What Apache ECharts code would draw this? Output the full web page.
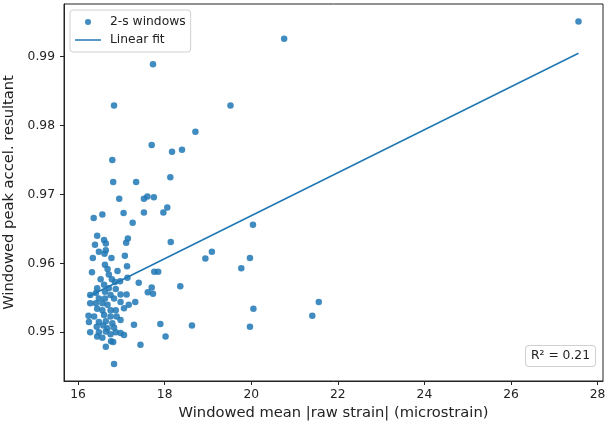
<!DOCTYPE html>
<html>
<head>
<meta charset="utf-8">
<script src="https://cdn.jsdelivr.net/npm/echarts@6/dist/echarts.min.js"></script>
<style>html,body{margin:0;padding:0;background:#fff;}#chart{width:605px;height:425px;}</style>
</head>
<body>
<div id="chart"></div>
<script>
// Windowed mean |raw strain| (microstrain)
const strainX = [
  27.56, 20.76, 17.73, 16.83, 19.52, 18.71, 17.70, 18.17, 18.40, 16.79,
  18.13, 16.81, 17.34, 16.95, 17.52, 17.60, 17.75, 18.06, 17.97, 17.52,
  17.05, 16.36, 16.56, 17.26, 20.04, 18.14, 17.15, 17.11, 16.44, 16.60,
  16.39, 16.64, 19.09, 18.94, 19.97, 19.77, 17.08, 17.76, 17.85, 18.36,
  17.70, 17.61, 17.73, 17.40, 17.32, 17.17, 17.12, 21.56, 20.05, 21.41,
  19.97, 18.63, 17.90, 18.02, 17.44, 17.29, 16.83, 16.64, 16.76, 16.48,
  16.64, 16.61, 16.34, 16.77, 17.13, 16.32,
  16.62, 16.68, 16.91, 16.71, 16.52, 16.78, 17.14, 16.85, 16.97, 16.60,
  16.44, 16.71, 16.87, 16.28, 16.41, 16.62, 16.75, 16.48, 16.62, 16.83,
  16.28, 16.41, 16.56, 16.68, 16.98, 16.44, 16.56, 16.75, 16.87, 17.06,
  16.24, 16.37, 16.60, 16.75, 16.89, 16.25, 16.48, 16.64, 16.79, 16.98,
  16.43, 16.58, 16.68, 16.83, 16.28, 16.48, 16.64, 16.87, 16.98, 16.44,
  16.56, 16.75, 17.06, 16.81, 16.98
];
// Windowed peak accel. resultant
const accelY = [
  0.9951, 0.9926, 0.9889, 0.9829, 0.9829, 0.9791, 0.9772, 0.9762, 0.9765, 0.9750,
  0.9725, 0.9718, 0.9718, 0.9694, 0.9694, 0.9697, 0.9696, 0.9681, 0.9674, 0.9674,
  0.9673, 0.9666, 0.9671, 0.9659, 0.9656, 0.9631, 0.9636, 0.9630, 0.9640, 0.9634,
  0.9627, 0.9629, 0.9617, 0.9607, 0.9608, 0.9593, 0.9611, 0.9588, 0.9588, 0.9567,
  0.9565, 0.9558, 0.9556, 0.9572, 0.9544, 0.9540, 0.9555, 0.9544, 0.9534, 0.9524,
  0.9508, 0.9510, 0.9512, 0.9494, 0.9482, 0.9511, 0.9454, 0.9479, 0.9487, 0.9617,
  0.9619, 0.9614, 0.9608, 0.9608, 0.9596, 0.9587,
  0.9598, 0.9592, 0.9589, 0.9584, 0.9577, 0.9577, 0.9579, 0.9573, 0.9574, 0.9569,
  0.9564, 0.9564, 0.9563, 0.9554, 0.9557, 0.9559, 0.9554, 0.9549, 0.9549, 0.9549,
  0.9542, 0.9542, 0.9542, 0.9540, 0.9544, 0.9534, 0.9532, 0.9532, 0.9532, 0.9535,
  0.9524, 0.9523, 0.9525, 0.9523, 0.9523, 0.9515, 0.9515, 0.9516, 0.9513, 0.9518,
  0.9508, 0.9510, 0.9506, 0.9507, 0.9500, 0.9500, 0.9501, 0.9500, 0.9499, 0.9494,
  0.9492, 0.9497, 0.9496, 0.9486, 0.9555
];
// Linear fit end points
const fitX = [16.24, 27.56];
const fitY = [0.9552, 0.9905];
// Tick labels
const xTicks = [16, 18, 20, 22, 24, 26, 28];
const yTicks = [0.95, 0.96, 0.97, 0.98, 0.99];
const r2Label = 'R\u00b2 = 0.21';

const FONT = "'DejaVu Sans', sans-serif";
const C0 = '#1f77b4';
const scatterData = strainX.map((x, i) => [x, accelY[i]]);
const fitData = fitX.map((x, i) => [x, fitY[i]]);

const chart = echarts.init(document.getElementById('chart'), null, {renderer: 'canvas'});
chart.setOption({
  animation: false,
  backgroundColor: '#fff',
  textStyle: {fontFamily: FONT},
  grid: {left: 64, right: 2, top: 4, bottom: 44, show: true, borderColor: '#222', borderWidth: 1,
    containLabel: false, outerBoundsMode: 'none'},
  legend: {
    orient: 'vertical', left: 70, top: 10,
    padding: [5, 5, 5, 5], itemGap: 4, itemWidth: 26, itemHeight: 6,
    borderColor: '#d0d0d0', borderWidth: 1, borderRadius: 3,
    backgroundColor: 'rgba(255,255,255,0.85)',
    textStyle: {fontFamily: FONT, fontSize: 12.3, color: '#222', lineHeight: 14, padding: [0, 0, 0, 4]},
    data: [
      {name: '2-s windows', icon: 'circle'},
      {name: 'Linear fit', icon: 'path://M0,0H26V1.5H0Z'}
    ]
  },
  xAxis: {
    type: 'value', min: 15.674, max: 28.126,
    name: 'Windowed mean |raw strain| (microstrain)', nameLocation: 'middle', nameGap: 25,
    nameTextStyle: {fontFamily: FONT, fontSize: 14.7, color: '#222'},
    axisLine: {show: true, lineStyle: {color: '#222', width: 1}},
    axisTick: {show: true, inside: false, length: 4, lineStyle: {color: '#222'}, customValues: xTicks},
    axisLabel: {show: true, margin: 8, fontFamily: FONT, fontSize: 12.3, color: '#222', customValues: xTicks,
      formatter: v => String(Math.round(v))},
    splitLine: {show: false}
  },
  yAxis: {
    type: 'value', min: 0.94293, max: 0.99765,
    name: 'Windowed peak accel. resultant', nameLocation: 'middle', nameGap: 38, nameRotate: 90,
    nameTextStyle: {fontFamily: FONT, fontSize: 14.7, color: '#222'},
    axisLine: {show: true, lineStyle: {color: '#222', width: 1}},
    axisTick: {show: true, inside: false, length: 4, lineStyle: {color: '#222'}, customValues: yTicks},
    axisLabel: {show: true, margin: 9, fontFamily: FONT, fontSize: 12.3, color: '#222', customValues: yTicks,
      formatter: v => v.toFixed(2)},
    splitLine: {show: false}
  },
  series: [
    {
      name: '2-s windows', type: 'scatter', data: scatterData, symbol: 'circle', symbolSize: 6.5,
      itemStyle: {color: C0, opacity: 0.85}, z: 2
    },
    {
      name: 'Linear fit', type: 'line', data: fitData, showSymbol: false, symbol: 'none',
      lineStyle: {color: C0, width: 1.5}, itemStyle: {color: C0}, z: 3
    }
  ],
  graphic: [{
    type: 'text', right: 9, bottom: 58,
    style: {
      text: r2Label, font: "12.3px 'DejaVu Sans', sans-serif", fill: '#222',
      backgroundColor: '#fff', borderColor: '#d0d0d0', borderWidth: 1, borderRadius: 3,
      padding: [3, 5, 3, 5], lineHeight: 14
    }
  }]
});
</script>
</body>
</html>
